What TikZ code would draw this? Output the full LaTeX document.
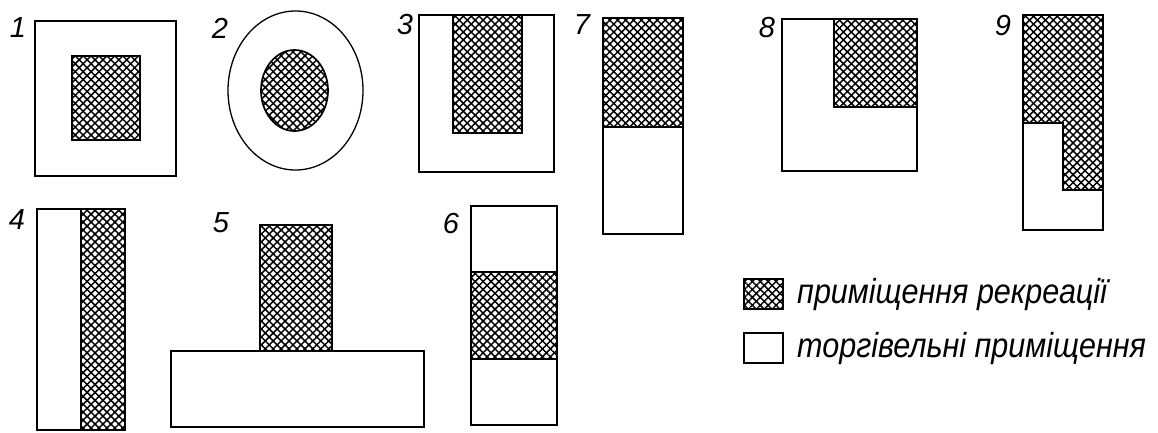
\documentclass[tikz,border=0pt]{standalone}
\usepackage{fontspec}
\setmainfont{Liberation Sans}
\usetikzlibrary{patterns.meta}
\tikzset{
  room/.style={draw, line width=1.3pt, fill=white},
  rec/.style={draw, line width=1.7pt,
    pattern={Lines[angle=45,distance=5.6pt,line width=1.5pt]},
    postaction={pattern={Lines[angle=-45,distance=5.6pt,line width=1.5pt]}}},
  num/.style={font=\fontsize{29}{30}\selectfont\itshape, inner sep=0pt},
  leg/.style={font=\fontsize{31}{34}\selectfont\itshape, anchor=base west, inner sep=0pt,
    xscale=0.985, yscale=1.12, transform shape}
}
\begin{document}
\begin{tikzpicture}[x=1pt,y=-1pt]
\useasboundingbox (0,0) rectangle (1158,432);
% 1
\draw[room] (35,21) rectangle (176,176);
\draw[rec] (72,56) rectangle (140,140);
\node[num] (n1) at (18,28) {1};
% 2
\draw[room] (295.5,90.5) ellipse [x radius=67.5, y radius=79.5];
\draw[rec] (294.5,90.5) ellipse [x radius=33.5, y radius=40.5];
\node[num] (n2) at (220,28) {2};
% 3
\draw[room] (419,15) rectangle (554,172);
\draw[rec] (453,15) rectangle (522,133);
\node[num] (n3) at (405,25) {3};
% 7
\draw[room] (603,18) rectangle (683,234);
\draw[rec] (603,18) rectangle (683,127);
\node[num] (n7) at (582,25) {7};
% 8
\draw[room] (782,19) rectangle (917,171);
\draw[rec] (834,19) rectangle (917,107);
\node[num] (n8) at (767,28) {8};
% 9
\draw[room] (1023,15) rectangle (1103,230);
\draw[rec] (1023,15) -- (1103,15) -- (1103,190) -- (1063,190) -- (1063,123) -- (1023,123) -- cycle;
\node[num] (n9) at (1003,26) {9};
% 4
\draw[room] (37,209) rectangle (125,430);
\draw[rec] (81,209) rectangle (125,430);
\node[num] (n4) at (17,220) {4};
% 5
\draw[room] (171,351) rectangle (424,427);
\draw[rec] (260,225) rectangle (332,351);
\node[num] (n5) at (221,223) {5};
% 6
\draw[room] (471,206) rectangle (557,425);
\draw[rec] (471,272) rectangle (557,359);
\node[num] (n6) at (451,224) {6};
% legend
\draw[rec] (744,279) rectangle (783,309);
\node[leg] (l1) at (797,303) {приміщення рекреації};
\draw[room] (744,333) rectangle (783,363);
\node[leg] (l2) at (797,357) {торгівельні приміщення};
\end{tikzpicture}
\end{document}
